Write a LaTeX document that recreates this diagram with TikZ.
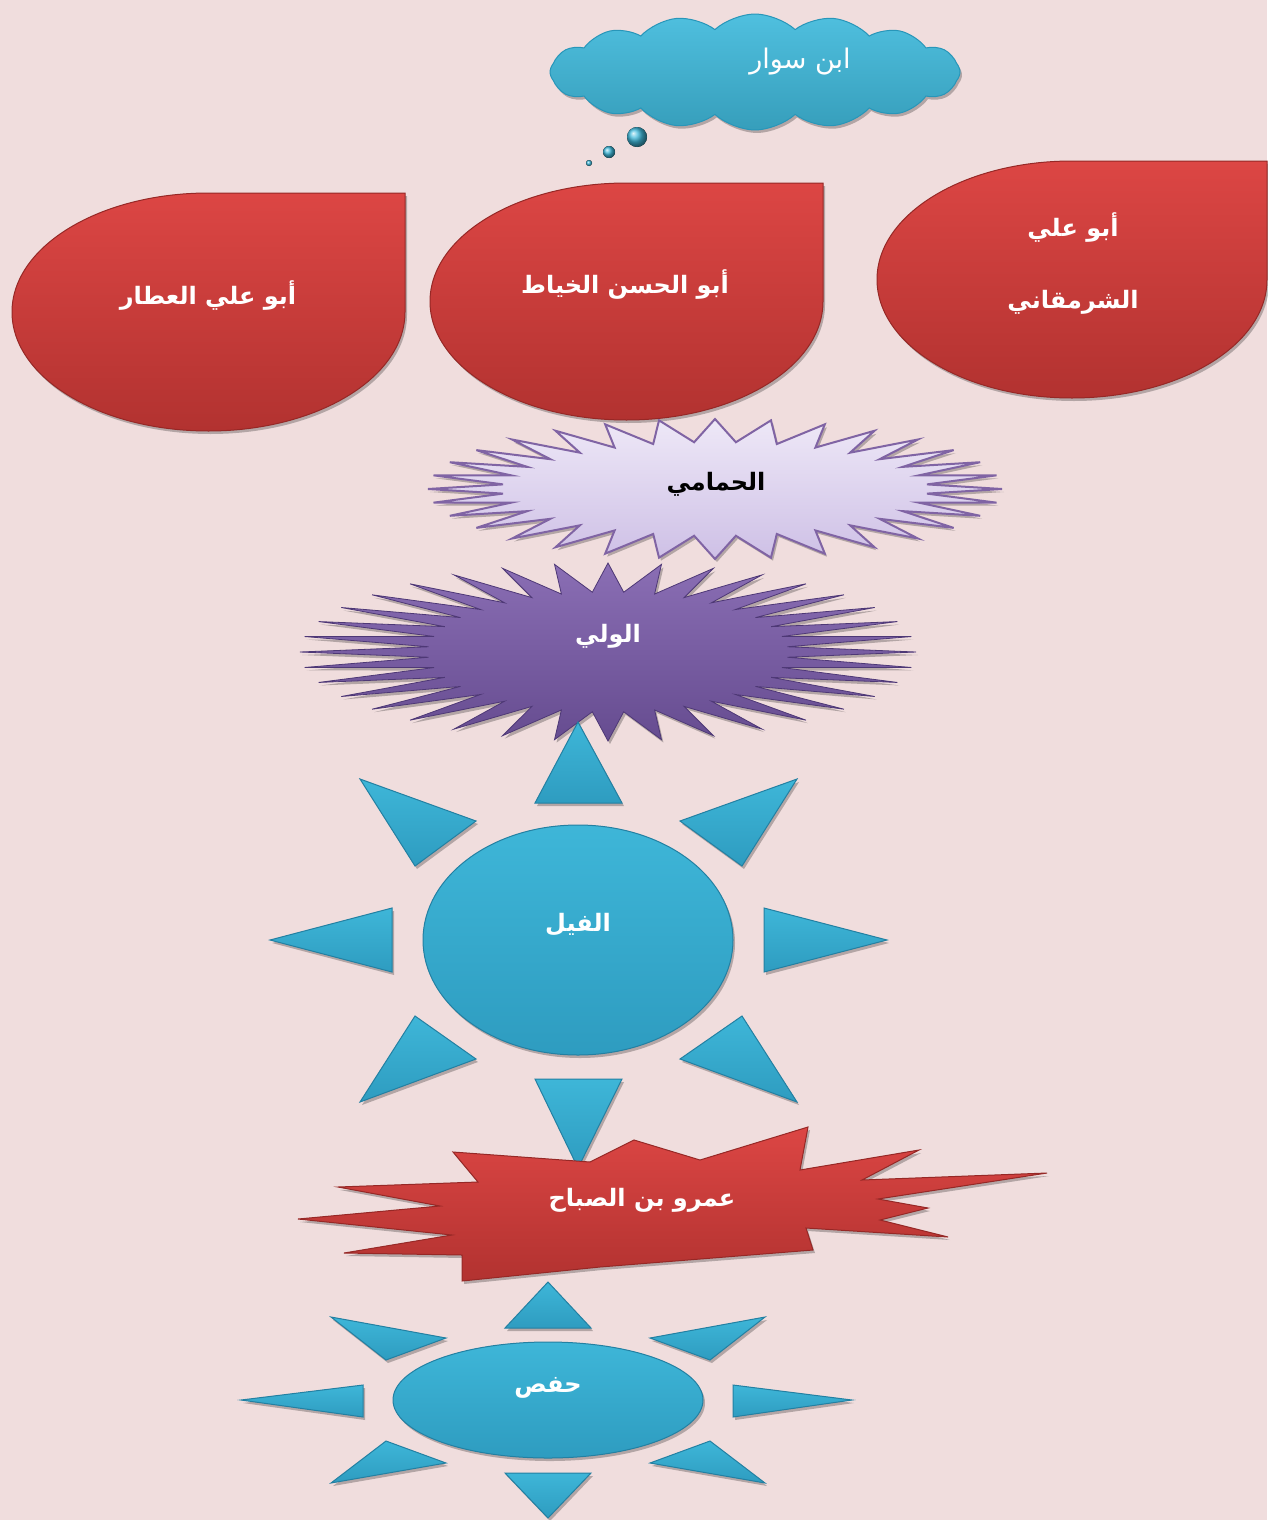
\documentclass[tikz,border=0pt]{standalone}
\usepackage{fontspec}
\usetikzlibrary{shapes.symbols,shadows}
\newfontfamily\arb[Script=Arabic]{DejaVu Sans}
\TeXXeTstate=1
\definecolor{bgc}{RGB}{240,221,221}
\definecolor{cloudc}{RGB}{64,186,220}
\definecolor{cloude}{RGB}{40,150,185}
\definecolor{suntop}{RGB}{62,182,216}
\definecolor{sunbot}{RGB}{46,156,192}
\definecolor{sune}{RGB}{35,128,162}
\definecolor{purtop}{RGB}{138,110,180}
\definecolor{purbot}{RGB}{102,76,144}
\definecolor{pure}{RGB}{78,56,118}
\definecolor{lavtop}{RGB}{238,232,247}
\definecolor{lavbot}{RGB}{206,192,230}
\definecolor{lave}{RGB}{128,100,164}
\definecolor{redtop}{RGB}{220,70,68}
\definecolor{redbot}{RGB}{178,50,48}
\definecolor{rede}{RGB}{150,40,38}
\tikzset{
  shd/.style={drop shadow={shadow xshift=2pt,shadow yshift=-3pt,opacity=0.25,fill=black}},
  tear/.style={shd,top color=redtop,bottom color=redbot,draw=rede,line width=1pt},
  expl/.style={shd,top color=redtop,bottom color=redbot,draw=rede,line width=1pt,line join=miter},
  sunpart/.style={shd,top color=suntop,bottom color=sunbot,draw=sune,line width=1pt,line join=miter},
  purstar/.style={shd,top color=purtop,bottom color=purbot,draw=pure,line width=0.8pt,line join=miter},
  lavstar/.style={shd,top color=lavtop,bottom color=lavbot,draw=lave,line width=2pt,line join=miter},
  lbl/.style={font=\arb\bfseries\fontsize{24}{30}\selectfont,text=white,inner sep=0pt},
  lblreg/.style={font=\arb\fontsize{27}{32}\selectfont,text=white,inner sep=0pt},
  bubble/.style={ball color=cloudc,draw=none}
}
\begin{document}
\begin{tikzpicture}[x=1pt,y=-1pt]
\useasboundingbox (0,0) rectangle (1267,1520);
\fill[bgc] (0,0) rectangle (1267,1520);

% cloud
\node[cloud,cloud puffs=16,cloud puff arc=85,aspect=3.6,minimum width=410pt,minimum height=116pt,
  top color=cloudc!92!white,bottom color=cloudc!85!black,draw=cloude,line width=1pt,shd] (cloudshape) at (755,72) {};
\node[lblreg] (ibnsawwar) at (800,62) {\beginR ابن سوار\endR};
\fill[bubble] (637,137) circle[radius=10pt];
\fill[bubble] (609,152) circle[radius=6pt];
\fill[bubble] (589,163) circle[radius=3pt];

% teardrops
\draw[tear] (405,193) -- (208.5,193) arc[start angle=90,end angle=360,x radius=196.5pt,y radius=119pt] -- cycle;
\draw[tear] (823,183) -- (626.5,183) arc[start angle=90,end angle=360,x radius=196.5pt,y radius=118.5pt] -- cycle;
\draw[tear] (1267,161) -- (1072,161) arc[start angle=90,end angle=360,x radius=195pt,y radius=118.5pt] -- cycle;
\node[lbl] (attar) at (208,296) {\beginR أبو علي العطار\endR};
\node[lbl] (khayyat) at (625,285) {\beginR أبو الحسن الخياط\endR};
\node[lbl,align=center,font=\arb\bfseries\fontsize{24}{72}\selectfont] (shirmaqani) at (1073,264) {\beginR أبو علي\endR\\\beginR الشرمقاني\endR};

% hamami star
\path[lavstar] plot[samples at={0,...,63}] ({715+(isodd(\x)?213:287)*cos(\x*5.625)},{489+(isodd(\x)?47:70)*sin(\x*5.625)}) -- cycle;
\node[lbl,text=black] (hamami) at (716,484) {\beginR الحمامي\endR};

% wali star
\path[purstar] plot[samples at={0,...,71}] ({608+(isodd(\x)?180:308)*cos(\x*5)},{652+(isodd(\x)?60:89)*sin(\x*5)}) -- cycle;
\node[lbl] (wali) at (608,636) {\beginR الولي\endR};

% fil sun
\draw[sunpart] (578,722) -- (622,803) -- (535,803) -- cycle;
\draw[sunpart] (360,779) -- (476,821) -- (415,866) -- cycle;
\draw[sunpart] (797,779) -- (680,821) -- (742,866) -- cycle;
\draw[sunpart] (270,940) -- (392,908) -- (392,972) -- cycle;
\draw[sunpart] (887,940) -- (764,908) -- (764,972) -- cycle;
\draw[sunpart] (360,1102) -- (415,1016) -- (476,1059) -- cycle;
\draw[sunpart] (797,1102) -- (742,1016) -- (680,1059) -- cycle;
\draw[sunpart] (578,1168) -- (622,1079) -- (535,1079) -- cycle;
\draw[sunpart] (578,940) ellipse[x radius=155pt,y radius=115pt];
\node[lbl] (fil) at (578,925) {\beginR الفيل\endR};

% amr explosion
\draw[expl] (298,1219) -- (440,1206) -- (338,1187) -- (478,1182) -- (453,1152) -- (590,1162) -- (634,1140)
  -- (700,1160) -- (808,1127) -- (800,1170) -- (919,1150) -- (862,1180) -- (1047,1173) -- (878,1199)
  -- (928,1208) -- (880,1220) -- (948,1237) -- (806,1228) -- (813,1250) -- (600,1267) -- (462,1281)
  -- (462,1255) -- (344,1253) -- (452,1235) -- cycle;
\node[lbl] (amr) at (642,1200) {\beginR عمرو بن الصباح\endR};

% hafs sun
\draw[sunpart] (548,1282) -- (591,1328) -- (505,1328) -- cycle;
\draw[sunpart] (331,1317) -- (446,1338) -- (386,1360) -- cycle;
\draw[sunpart] (765,1317) -- (650,1338) -- (710,1360) -- cycle;
\draw[sunpart] (241,1400) -- (363,1385) -- (363,1417) -- cycle;
\draw[sunpart] (852,1400) -- (733,1385) -- (733,1417) -- cycle;
\draw[sunpart] (331,1483) -- (386,1441) -- (446,1463) -- cycle;
\draw[sunpart] (765,1483) -- (710,1441) -- (650,1463) -- cycle;
\draw[sunpart] (548,1518) -- (591,1473) -- (505,1473) -- cycle;
\draw[sunpart] (548,1400) ellipse[x radius=155pt,y radius=58pt];
\node[lbl] (hafs) at (548,1388) {\beginR حفص\endR};
\end{tikzpicture}
\end{document}
